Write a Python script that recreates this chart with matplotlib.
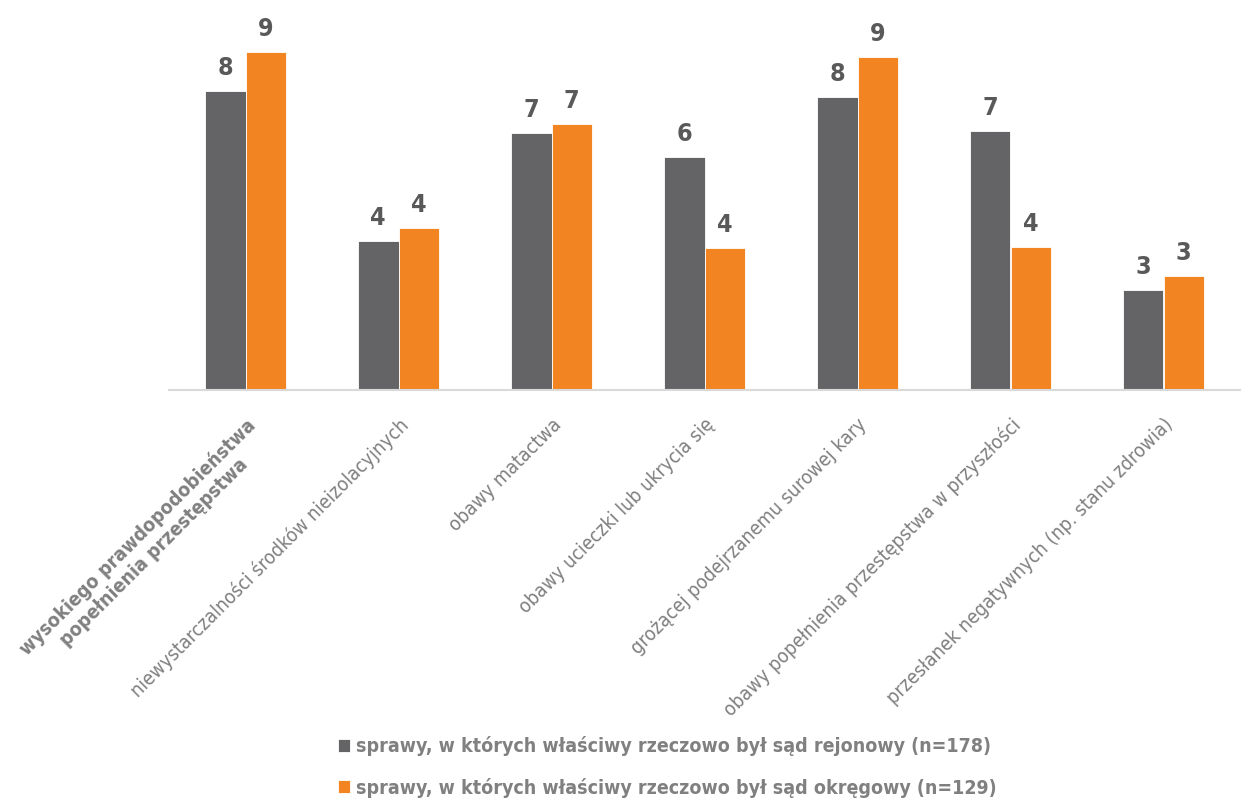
import matplotlib
matplotlib.use("Agg")
import matplotlib.pyplot as plt
import numpy as np
from matplotlib import font_manager

kategorie = [
    "wysokiego prawdopodobieństwa\npopełnienia przestępstwa",
    "niewystarczalności środków nieizolacyjnych",
    "obawy matactwa",
    "obawy ucieczki lub ukrycia się",
    "grożącej podejrzanemu surowej kary",
    "obawy popełnienia przestępstwa w przyszłości",
    "przesłanek negatywnych (np. stanu zdrowia)",
]
rejonowy = [7.97, 3.97, 6.85, 6.21, 7.81, 6.91, 2.67]
okregowy = [9.01, 4.32, 7.09, 3.79, 8.88, 3.81, 3.04]
seria = [
    "sprawy, w których właściwy rzeczowo był sąd rejonowy (n=178)",
    "sprawy, w których właściwy rzeczowo był sąd okręgowy (n=129)",
]

nazwy = {f.name for f in font_manager.fontManager.ttflist}
font = "Liberation Sans Narrow" if "Liberation Sans Narrow" in nazwy else "DejaVu Sans"
plt.rcParams["font.family"] = [font, "DejaVu Sans"]
plt.rcParams["font.stretch"] = "condensed"

szary = "#646466"
pomar = "#F28522"
tekst = "#808080"

fig = plt.figure(figsize=(12.45, 8.07), dpi=100)
ax = fig.add_axes([169 / 1245, 1 - 390 / 807, (1240 - 169) / 1245, (390 - 20) / 807])

x = np.arange(len(kategorie))
w = 0.265
b1 = ax.bar(x - w / 2, rejonowy, w, color=szary, edgecolor="white", linewidth=0.6, label=seria[0])
b2 = ax.bar(x + w / 2, okregowy, w, color=pomar, edgecolor="white", linewidth=0.6, label=seria[1])

for bars in (b1, b2):
    for r in bars:
        h = r.get_height()
        ax.annotate(f"{h:.0f}", (r.get_x() + r.get_width() / 2, h), xytext=(0, 8),
                    textcoords="offset points", ha="center", va="bottom",
                    fontsize=18, fontweight="bold", color="#595959")

ax.set_xlim(-0.5, len(kategorie) - 0.5)
ax.set_ylim(0, 9.87)
ax.set_yticks([])
for s in ["top", "right", "left"]:
    ax.spines[s].set_visible(False)
ax.spines["bottom"].set_color("#d9d9d9")
ax.spines["bottom"].set_linewidth(1.5)
ax.tick_params(axis="x", length=0, pad=18)
ax.set_xticks(x)
ax.set_xticklabels(kategorie, rotation=45, ha="right", rotation_mode="anchor",
                   fontsize=14, color=tekst, multialignment="center")
ax.get_xticklabels()[0].set_fontweight("bold")

leg = fig.legend(handles=[b1, b2], loc="lower center", bbox_to_anchor=(0.536, -0.01),
                 ncol=1, frameon=False, fontsize=14, handlelength=0.65, handleheight=0.65,
                 handletextpad=0.3, labelspacing=1.1)
for t in leg.get_texts():
    t.set_color(tekst)
    t.set_fontweight("bold")

fig.savefig("out.png", dpi=100)
